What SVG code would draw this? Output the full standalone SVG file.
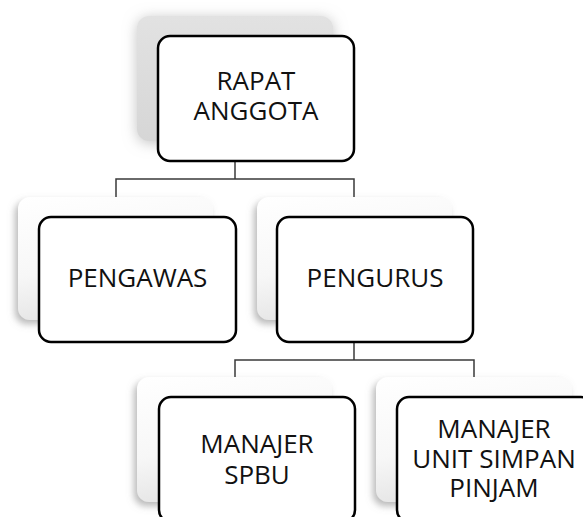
<svg xmlns="http://www.w3.org/2000/svg" width="583" height="517" viewBox="0 0 583 517">
<defs>
<linearGradient id="gBack" x1="0" y1="0" x2="0.3" y2="1">
<stop offset="0" stop-color="#ffffff"/>
<stop offset="0.6" stop-color="#f7f7f7"/>
<stop offset="1" stop-color="#e4e4e4"/>
</linearGradient>
<linearGradient id="gTop" x1="0" y1="0" x2="0" y2="1">
<stop offset="0" stop-color="#e2e2e2"/>
<stop offset="1" stop-color="#d6d6d6"/>
</linearGradient>
<filter id="shBack" x="-20%" y="-20%" width="140%" height="140%">
<feGaussianBlur in="SourceAlpha" stdDeviation="3.5"/>
<feOffset dx="-3" dy="4" result="b"/>
<feFlood flood-color="#808080" flood-opacity="0.55"/>
<feComposite in2="b" operator="in"/>
<feMerge><feMergeNode/><feMergeNode in="SourceGraphic"/></feMerge>
</filter>
<filter id="shTop" x="-30%" y="-30%" width="160%" height="160%">
<feGaussianBlur in="SourceAlpha" stdDeviation="7"/>
<feOffset dx="0" dy="2" result="b"/>
<feFlood flood-color="#9a9a9a" flood-opacity="0.6"/>
<feComposite in2="b" operator="in"/>
<feMerge><feMergeNode/><feMergeNode in="SourceGraphic"/></feMerge>
</filter>
</defs>
<style>
.back{fill:url(#gBack);filter:url(#shBack);}
.backTop{fill:url(#gTop);filter:url(#shTop);}
.front{fill:#ffffff;stroke:#000000;stroke-width:2.5;}
.lbl{font-family:"Open Sans","Liberation Sans",sans-serif;font-size:26px;fill:#111111;text-anchor:middle;}
.conn{fill:none;stroke:#3a3a3a;stroke-width:1.5;}
</style>
<rect width="583" height="517" fill="#ffffff"/>
<g id="connectors">
<polyline class="conn" points="235,161 235,179"/>
<polyline class="conn" points="116,197 116,179 354,179 354,197"/>
<polyline class="conn" points="354,342 354,360"/>
<polyline class="conn" points="235,377 235,360 474,360 474,377"/>
</g>
<g id="rapat-anggota">
<rect class="backTop" x="137" y="16" width="196" height="125" rx="12"/>
<rect class="front" x="158" y="36" width="196" height="125" rx="12"/>
<text class="lbl" x="256" y="90">RAPAT</text>
<text class="lbl" x="256" y="120">ANGGOTA</text>
</g>
<g id="pengawas">
<rect class="back" x="18" y="197" width="195" height="123" rx="12"/>
<rect class="front" x="39" y="217" width="197" height="125" rx="12"/>
<text class="lbl" x="137.5" y="287">PENGAWAS</text>
</g>
<g id="pengurus">
<rect class="back" x="257" y="197" width="195" height="123" rx="12"/>
<rect class="front" x="277" y="217" width="196" height="125" rx="12"/>
<text class="lbl" x="375" y="287">PENGURUS</text>
</g>
<g id="manajer-spbu">
<rect class="back" x="137" y="377" width="195" height="125" rx="12"/>
<rect class="front" x="159" y="397" width="196" height="125" rx="12"/>
<text class="lbl" x="257" y="453">MANAJER</text>
<text class="lbl" x="257" y="484">SPBU</text>
</g>
<g id="manajer-usp">
<rect class="back" x="376" y="377" width="196" height="125" rx="12"/>
<rect class="front" x="397" y="397" width="196" height="125" rx="12"/>
<text class="lbl" x="494" y="438">MANAJER</text>
<text class="lbl" x="494" y="467.5">UNIT SIMPAN</text>
<text class="lbl" x="494" y="497">PINJAM</text>
</g>
</svg>
